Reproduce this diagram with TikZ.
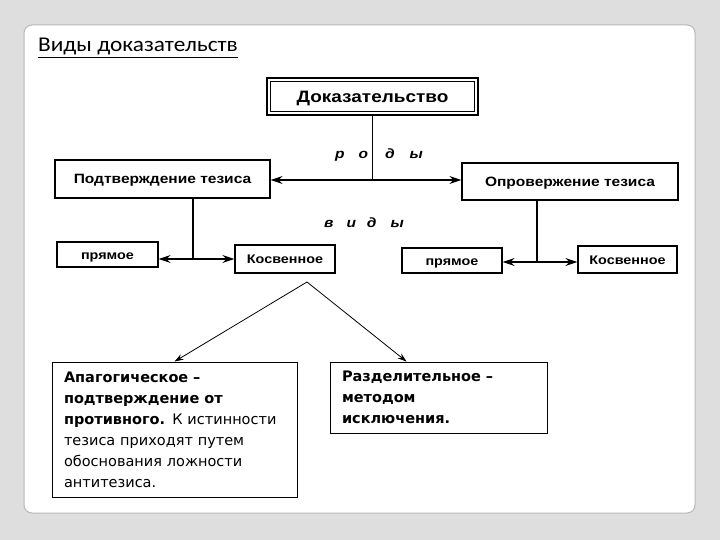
\documentclass[tikz,border=0pt]{standalone}
\usepackage{fontspec}
\setmainfont{DejaVu Sans}
\newfontfamily\scanfont[FakeStretch=1.15]{Liberation Sans}
\newfontfamily\titlefont[FakeStretch=1.11]{Carlito}
\usetikzlibrary{arrows.meta,calc}
\definecolor{bg}{HTML}{DEDEDE}
\definecolor{panelline}{HTML}{B8B8B8}
\begin{document}
\begin{tikzpicture}[x=1pt,y=-1pt,
  scanbox/.style={draw, line width=1.3pt, inner sep=0pt, text height=9.5pt, text depth=0pt,
    font=\scanfont\bfseries\fontsize{12.5}{14}\selectfont},
  conn/.style={line width=1.3pt},
  arr/.style={line width=1.3pt, -{Stealth[length=12pt,width=8pt]}},
  thinarr/.style={line width=0.8pt, -{Stealth[length=9pt,width=6pt]}},
  textbox/.style={draw, line width=0.9pt, align=left, inner xsep=12pt, inner ysep=0pt,
    font=\fontsize{14.5}{21}\selectfont},
  spaced/.style={font=\scanfont\bfseries\itshape\fontsize{13.5}{13.5}\selectfont}
]
\useasboundingbox (0,0) rectangle (720,540);
\fill[bg] (0,0) rectangle (720,540);
\draw[panelline, line width=1pt, fill=white, rounded corners=8pt] (24,25) rectangle (695,513);

% title
\node[anchor=base west, inner sep=0pt, font=\titlefont\fontsize{21}{23}\selectfont] (title) at (38,52) {\underline{Виды доказательств}};

% top box
\node[scanbox, line width=2.6pt, minimum width=211pt, minimum height=37pt, text height=12pt,
      font=\scanfont\bfseries\fontsize{16.5}{18}\selectfont] (dok) at (372.5,96.5) {Доказательство};
\draw[line width=1pt] ([xshift=5pt,yshift=-5pt]dok.north west) rectangle ([xshift=-5pt,yshift=5pt]dok.south east);

% level 2
\node[scanbox, minimum width=215pt, minimum height=38pt, text height=10pt, font=\scanfont\bfseries\fontsize{13.5}{15}\selectfont] (podt) at (162.5,179) {Подтверждение тезиса};
\node[scanbox, minimum width=216pt, minimum height=37pt, text height=10pt, font=\scanfont\bfseries\fontsize{13.5}{15}\selectfont] (opr) at (570,181.5) {Опровержение тезиса};

\node[spaced] (rody) at (379,155) {р\hspace{14pt}о\hspace{17pt}д\hspace{15pt}ы};
\node[spaced] (vidy) at (364,223) {в\hspace{13pt}и\hspace{11pt}д\hspace{14pt}ы};

\coordinate (j1) at (372.5,180);
\draw[conn] (dok.south) -- (j1);
\draw[arr] (j1) -- (podt.east |- j1);
\draw[arr] (j1) -- (opr.west |- j1);

% level 3
\node[scanbox, minimum width=101pt, minimum height=25pt] (pr1) at (107.5,254.5) {прямое};
\node[scanbox, minimum width=100pt, minimum height=28pt] (kos1) at (285,259) {Косвенное};
\node[scanbox, minimum width=100pt, minimum height=25pt] (pr2) at (452,260.5) {прямое};
\node[scanbox, minimum width=99pt, minimum height=27pt] (kos2) at (627.5,259.5) {Косвенное};

\coordinate (j2) at (193,259);
\draw[conn] (podt.south -| j2) -- (j2);
\draw[arr] (j2) -- (pr1.east |- j2);
\draw[arr] (j2) -- (kos1.west |- j2);

\coordinate (j3) at (537,262);
\draw[conn] (opr.south -| j3) -- (j3);
\draw[arr] (j3) -- (pr2.east |- j3);
\draw[arr] (j3) -- (kos2.west |- j3);

% bottom
\node[textbox, text width=221pt, minimum height=135pt] (apag) at (174.5,429.5)
  {\textbf{Апагогическое –}\\\textbf{подтверждение от}\\\textbf{противного.} К истинности\\тезиса приходят путем\\обоснования ложности\\антитезиса.};
\node[textbox, text width=193pt, minimum height=71pt] (razd) at (438.5,397.5)
  {\textbf{Разделительное –}\\\textbf{методом}\\\textbf{исключения.}};

\coordinate (apex) at (307,282);
\draw[thinarr] (apex) -- (apag.north);
\draw[thinarr] (apex) -- ($(razd.north west)+(77,0)$);
\end{tikzpicture}
\end{document}
